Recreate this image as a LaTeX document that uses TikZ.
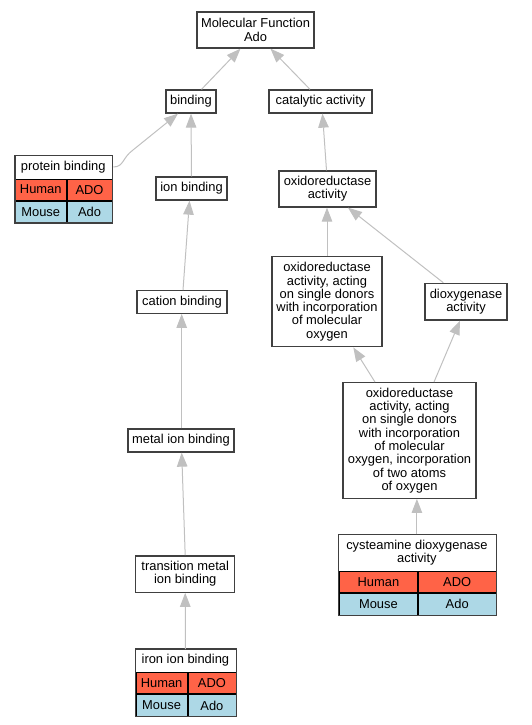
\documentclass[tikz,border=0pt]{standalone}
\usepackage{fontspec}
\setmainfont{Liberation Sans}
\usetikzlibrary{arrows.meta}
\definecolor{termline}{HTML}{404040}
\definecolor{edgegray}{HTML}{C0C0C0}
\definecolor{humanred}{HTML}{FF6347}
\definecolor{mouseblue}{HTML}{ADD8E6}
\tikzset{
	term/.style={draw=termline, line width=1.3pt, fill=white, align=center, inner sep=0pt},
	frame/.style={draw=termline, line width=1.3pt},
	rowtitle/.style={fill=white, align=center, inner sep=0pt, anchor=north west},
	cell/.style={draw=black, line width=0.8pt, inner sep=0pt, anchor=north west},
	human/.style={cell, fill=humanred},
	mouse/.style={cell, fill=mouseblue},
	isa/.style={draw=edgegray, line width=1pt, -{Triangle[length=14pt,width=10.5pt]}}
}
\begin{document}
\begin{tikzpicture}[x=1pt, y=-1pt, font=\fontsize{12.9}{13.3}\selectfont]
	\useasboundingbox (0,0) rectangle (532,725);
	% terms
	\node[term, minimum width=117pt, minimum height=36pt] (mf) at (255.5,30) {Molecular Function\\Ado};
	\node[term, minimum width=50pt, minimum height=23pt] (bind) at (191,101.5) {binding};
	\node[term, minimum width=103pt, minimum height=23pt] (cat) at (320.5,101.5) {catalytic activity};
	\node[term, minimum width=71pt, minimum height=23pt] (ion) at (191.5,188.5) {ion binding};
	\node[term, minimum width=97pt, minimum height=36pt] (oxa) at (327.5,189) {oxidoreductase\\activity};
	\node[term, minimum width=90pt, minimum height=22.5pt] (cation) at (182,302) {cation binding};
	\node[term, minimum width=110pt, minimum height=90pt] (oxs) at (327,301.7)
		{oxidoreductase\\activity, acting\\on single donors\\with incorporation\\of molecular\\oxygen};
	\node[term, minimum width=82pt, minimum height=36.7pt] (diox) at (466,301.7) {dioxygenase\\activity};
	\node[term, minimum width=106pt, minimum height=23pt] (metal) at (181,440.5) {metal ion binding};
	\node[term, minimum width=133pt, minimum height=115.6pt] (big) at (409.5,440.5)
		{oxidoreductase\\activity, acting\\on single donors\\with incorporation\\of molecular\\oxygen, incorporation\\of two atoms\\of oxygen};
	\node[term, minimum width=99pt, minimum height=36.3pt] (trans) at (185.2,574) {transition metal\\ion binding};
	% annotated terms
	\node[rowtitle, minimum width=96pt, minimum height=23pt] (pb) at (15,155.3) {protein binding};
	\node[human, minimum width=50.7pt, minimum height=21pt] (pbh) at (pb.south west) {Human};
	\node[human, minimum width=45.3pt, minimum height=21pt] (pbhg) at (pbh.north east) {ADO};
	\node[mouse, minimum width=50.7pt, minimum height=21.7pt] (pbm) at (pbh.south west) {Mouse};
	\node[mouse, minimum width=45.3pt, minimum height=21.7pt] (pbmg) at (pbm.north east) {Ado};
	\draw[frame] (pb.north west) rectangle (pbmg.south east);
	\node[rowtitle, minimum width=156pt, minimum height=36.4pt] (cys) at (338.7,534.3) {cysteamine dioxygenase\\activity};
	\node[human, minimum width=78.6pt, minimum height=21pt] (cysh) at (cys.south west) {Human};
	\node[human, minimum width=77.4pt, minimum height=21pt] (cyshg) at (cysh.north east) {ADO};
	\node[mouse, minimum width=78.6pt, minimum height=21.6pt] (cysm) at (cysh.south west) {Mouse};
	\node[mouse, minimum width=77.4pt, minimum height=21.6pt] (cysmg) at (cysm.north east) {Ado};
	\draw[frame] (cys.north west) rectangle (cysmg.south east);
	\node[rowtitle, minimum width=99pt, minimum height=22.7pt] (iron) at (135.7,649) {iron ion binding};
	\node[human, minimum width=51pt, minimum height=21.3pt] (ironh) at (iron.south west) {Human};
	\node[human, minimum width=48pt, minimum height=21.3pt] (ironhg) at (ironh.north east) {ADO};
	\node[mouse, minimum width=51pt, minimum height=21.7pt] (ironm) at (ironh.south west) {Mouse};
	\node[mouse, minimum width=48pt, minimum height=21.7pt] (ironmg) at (ironm.north east) {Ado};
	\draw[frame] (iron.north west) rectangle (ironmg.south east);
	% is_a edges
	\draw[isa] ([xshift=10.5pt]bind.north) -- ([xshift=-15pt]mf.south);
	\draw[isa] ([xshift=-10.5pt]cat.north) -- ([xshift=15pt]mf.south);
	\draw[isa] ([xshift=2pt]pb.east) .. controls (124,166.8) and (122,158) .. (133,150) -- ([xshift=-13pt]bind.south);
	\draw[isa] (ion.north) -- (bind.south);
	\draw[isa] ([xshift=-1pt]oxa.north) -- ([xshift=2pt]cat.south);
	\draw[isa] ([xshift=1pt]cation.north) -- ([xshift=-2pt]ion.south);
	\draw[isa] (oxs.north) -- (oxs.north |- oxa.south);
	\draw[isa] ([xshift=-22.7pt]diox.north) -- ([xshift=20.5pt]oxa.south);
	\draw[isa] ([xshift=0.7pt]metal.north) -- ([xshift=0.7pt]metal.north |- cation.south);
	\draw[isa] ([xshift=-34.5pt]big.north) -- ([xshift=26.3pt]oxs.south);
	\draw[isa] ([xshift=24.5pt]big.north) -- ([xshift=-6pt]diox.south);
	\draw[isa] (cys.north) -- (cys.north |- big.south);
	\draw[isa] (trans.north) -- ([xshift=0.7pt]metal.south);
	\draw[isa] (iron.north) -- (trans.south);
\end{tikzpicture}
\end{document}
